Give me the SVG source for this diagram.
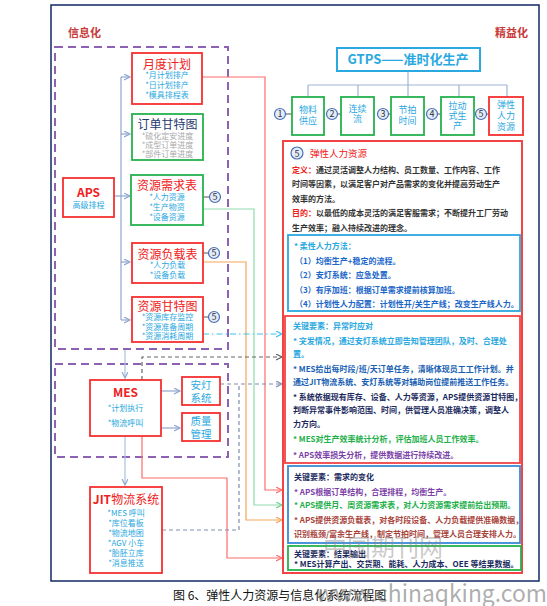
<svg xmlns="http://www.w3.org/2000/svg" width="547" height="606" viewBox="0 0 547 606">
<style>
text{font-family:"Noto Sans CJK SC","Noto Sans",sans-serif}
.box{fill:#fff;stroke-width:1.8}
.r{stroke:#f52f2f}
.g{stroke:#25b24e}
.t{fill:#f02020;font-size:12px;text-anchor:middle}
.it{fill:#2aa8e0;font-size:8px;text-anchor:middle}
.gi{fill:#a9a9a9;font-size:8px;text-anchor:middle}
.c5 circle{fill:#e3ecfa;stroke:#4a6fb5;stroke-width:1.2}
.c5 text{font-size:9px;text-anchor:middle;fill:#333}
.tb{fill:#2aa8e0;font-size:9px;text-anchor:middle}
.bd{font-size:8px;font-weight:bold}
.ln{fill:none;stroke-width:1.2}
</style>
<defs>
<marker id="aB" markerUnits="userSpaceOnUse" markerWidth="8" markerHeight="8" refX="6" refY="3" orient="auto"><path d="M0,0 L6,3 L0,6" fill="none" stroke="#8ea6cf" stroke-width="1.2"/></marker>
<marker id="aR" markerUnits="userSpaceOnUse" markerWidth="8" markerHeight="8" refX="6" refY="3" orient="auto"><path d="M0,0 L6,3 L0,6" fill="none" stroke="#ff6b6b" stroke-width="1.2"/></marker>
<marker id="aG" markerUnits="userSpaceOnUse" markerWidth="8" markerHeight="8" refX="6" refY="3" orient="auto"><path d="M0,0 L6,3 L0,6" fill="none" stroke="#6fd096" stroke-width="1.2"/></marker>
<marker id="aO" markerUnits="userSpaceOnUse" markerWidth="8" markerHeight="8" refX="6" refY="3" orient="auto"><path d="M0,0 L6,3 L0,6" fill="none" stroke="#f5a55a" stroke-width="1.2"/></marker>
<marker id="aC" markerUnits="userSpaceOnUse" markerWidth="8" markerHeight="8" refX="6" refY="3" orient="auto"><path d="M0,0 L6,3 L0,6" fill="none" stroke="#3cc4f0" stroke-width="1.2"/></marker>
<marker id="aK" markerUnits="userSpaceOnUse" markerWidth="8" markerHeight="8" refX="6" refY="3" orient="auto"><path d="M0,0 L6,3 L0,6" fill="none" stroke="#666" stroke-width="1.2"/></marker>
<marker id="aS" markerUnits="userSpaceOnUse" markerWidth="8" markerHeight="8" refX="6" refY="3" orient="auto"><path d="M0,0 L6,3 L0,6" fill="none" stroke="#7f8db0" stroke-width="1.2"/></marker>
</defs>

<rect x="51" y="5" width="488" height="576" fill="#fff" stroke="#102a66" stroke-width="1.5"/>
<text x="68" y="37" font-size="11" font-weight="bold" fill="#c83c3c">信息化</text>
<text x="495" y="37" font-size="11" font-weight="bold" fill="#c83c3c">精益化</text>

<rect x="55" y="47" width="173" height="302" fill="none" stroke="#8d62b5" stroke-width="2" stroke-dasharray="8,5"/>
<rect x="55" y="364" width="173" height="93" fill="none" stroke="#8d62b5" stroke-width="2" stroke-dasharray="8,5"/>

<g id="connectors">
<path class="ln" d="M114,196 H130" stroke="#8ea6cf" marker-end="url(#aB)"/>
<path class="ln" d="M121,77 V320" stroke="#8ea6cf"/>
<path class="ln" d="M121,77 H130" stroke="#8ea6cf" marker-end="url(#aB)"/>
<path class="ln" d="M121,134 H130" stroke="#8ea6cf" marker-end="url(#aB)"/>
<path class="ln" d="M121,262 H130" stroke="#8ea6cf" marker-end="url(#aB)"/>
<path class="ln" d="M121,320 H130" stroke="#8ea6cf" marker-end="url(#aB)"/>
<path class="ln" d="M125,350 V378" stroke="#a9c0e3" stroke-width="2" marker-end="url(#aB)"/>
<path class="ln" d="M125,437 V485" stroke="#a9c0e3" stroke-width="2" marker-end="url(#aB)"/>
<path class="ln" d="M161,391 H180" stroke="#8ea6cf" marker-end="url(#aB)"/>
<path class="ln" d="M161,428 H180" stroke="#8ea6cf" marker-end="url(#aB)"/>
<path class="ln" d="M202,77 H265 V490 H282" stroke="#ff6b6b" marker-end="url(#aR)"/>
<path class="ln" d="M203,209 H254 V505 H282" stroke="#8fdcae" stroke-width="1.6" marker-end="url(#aG)"/>
<path class="ln" d="M203,262 H246 V520 H282" stroke="#f5a55a" marker-end="url(#aO)"/>
<path class="ln" d="M142,436 V478 H227 V558 H282" stroke="#ff6b6b" marker-end="url(#aR)"/>
<path class="ln" d="M203,334 H282" stroke="#3cc4f0" stroke-dasharray="6,3,1.5,3" marker-end="url(#aC)"/>
<path class="ln" d="M142,380 V357 H282" stroke="#666" stroke-dasharray="4,3" marker-end="url(#aK)"/>
<path class="ln" d="M220,384 H282" stroke="#7f8db0" stroke-dasharray="4,3" marker-end="url(#aS)"/>
<path class="ln" d="M162,530 H239 V384" stroke="#7f8db0" stroke-dasharray="4,3"/>
<path class="ln" d="M408,71 V85 M308,85 H507 M308,85 V97 M358,85 V97 M408,85 V97 M459,85 V97 M507,85 V97" stroke="#9fb3d3"/>
<path class="ln" d="M203,197 H210 M203,253 H209 M203,317 H209 M285,114 H292 M337,114 H341 M388,114 H391 M437,114 H441 M486,114 H489" stroke="#555"/>
</g>

<g id="yuedu">
<rect class="box r" x="132" y="53" width="70" height="51"/>
<text class="t" x="167" y="69">月度计划</text>
<text class="it" x="167" y="78">*月计划排产</text>
<text class="it" x="167" y="88">*日计划排产</text>
<text class="it" x="167" y="98">*模具排程表</text>
</g>
<g id="dingdan">
<rect class="box g" x="132" y="114" width="71" height="46"/>
<text x="167.5" y="129" font-size="12" text-anchor="middle" fill="#1f3a6e">订单甘特图</text>
<text class="gi" x="167.5" y="139">*硫化定安进度</text>
<text class="gi" x="167.5" y="148">*成型订单进度</text>
<text class="gi" x="167.5" y="157">*部件订单进度</text>
</g>
<g id="aps">
<rect class="box r" x="63" y="178" width="51" height="39"/>
<text x="88.5" y="197" font-size="12" font-weight="bold" text-anchor="middle" fill="#f02020">APS</text>
<text class="it" x="88.5" y="208">高级排程</text>
</g>
<g id="xuqiu">
<rect class="box g" x="131" y="175" width="72" height="50"/>
<text class="t" x="167" y="190">资源需求表</text>
<text class="it" x="167" y="200">*人力资源</text>
<text class="it" x="167" y="210">*生产物资</text>
<text class="it" x="167" y="220">*设备资源</text>
<g class="c5"><circle cx="215" cy="197" r="5.5"/><text x="215" y="200">5</text></g>
</g>
<g id="fuzai">
<rect class="box r" x="132" y="243" width="71" height="40"/>
<text class="t" x="167.5" y="259">资源负载表</text>
<text class="it" x="167.5" y="268">*人力负载</text>
<text class="it" x="167.5" y="278">*设备负载</text>
<g class="c5"><circle cx="214" cy="253" r="5.5"/><text x="214" y="256">5</text></g>
</g>
<g id="ziyuangantt">
<rect class="box r" x="132" y="297" width="71" height="45"/>
<text class="t" x="167.5" y="311">资源甘特图</text>
<text class="it" x="167.5" y="320">*资源库存监控</text>
<text class="it" x="167.5" y="330">*资源准备周期</text>
<text class="it" x="167.5" y="339">*资源消耗周期</text>
<g class="c5"><circle cx="214" cy="317" r="5.5"/><text x="214" y="320">5</text></g>
</g>
<g id="mes">
<rect class="box r" x="90" y="380" width="71" height="56"/>
<text x="125.5" y="397" font-size="12" font-weight="bold" text-anchor="middle" fill="#f02020">MES</text>
<text class="it" x="125.5" y="411">*计划执行</text>
<text class="it" x="125.5" y="426">*物流呼叫</text>
</g>
<g id="andeng">
<rect class="box r" x="182" y="377" width="38" height="28"/>
<text x="201" y="389" font-size="10.5" text-anchor="middle" fill="#2aa8e0">安灯</text>
<text x="201" y="402" font-size="10.5" text-anchor="middle" fill="#2aa8e0">系统</text>
</g>
<g id="zhiliang">
<rect class="box r" x="182" y="413" width="38" height="28"/>
<text x="201" y="425" font-size="10.5" text-anchor="middle" fill="#2aa8e0">质量</text>
<text x="201" y="438" font-size="10.5" text-anchor="middle" fill="#2aa8e0">管理</text>
</g>
<g id="jit">
<rect class="box r" x="90" y="487" width="72" height="86"/>
<text class="t" x="126" y="504"><tspan font-weight="bold">JIT</tspan>物流系统</text>
<text class="it" x="126" y="516">*MES 呼叫</text>
<text class="it" x="126" y="526">*库位看板</text>
<text class="it" x="126" y="536">*物流地图</text>
<text class="it" x="126" y="546">*AGV 小车</text>
<text class="it" x="126" y="556">*胎胚立库</text>
<text class="it" x="126" y="566">*消息推送</text>
</g>

<g id="gtps">
<rect x="337" y="48" width="143" height="23" fill="#fff" stroke="#2aa8e0" stroke-width="2"/>
<text x="408" y="64" font-size="13" font-weight="bold" text-anchor="middle" fill="#2aa8e0">GTPS——准时化生产</text>
</g>
<g id="p1">
<g class="c5"><circle cx="280" cy="114" r="5.5"/><text x="280" y="117">1</text></g>
<rect class="box g" x="292" y="97" width="32" height="38"/>
<text class="tb" x="308" y="113">物料</text><text class="tb" x="308" y="124">供应</text>
</g>
<g id="p2">
<g class="c5"><circle cx="332" cy="114" r="5.5"/><text x="332" y="117">2</text></g>
<rect class="box g" x="341" y="97" width="33" height="38"/>
<text class="tb" x="357.5" y="112">连续</text><text class="tb" x="357.5" y="122">流</text>
</g>
<g id="p3">
<g class="c5"><circle cx="383" cy="114" r="5.5"/><text x="383" y="117">3</text></g>
<rect class="box g" x="391" y="97" width="33" height="38"/>
<text class="tb" x="407.5" y="113">节拍</text><text class="tb" x="407.5" y="124">时间</text>
</g>
<g id="p4">
<g class="c5"><circle cx="432" cy="114" r="5.5"/><text x="432" y="117">4</text></g>
<rect class="box g" x="441" y="97" width="33" height="38"/>
<text class="tb" x="457.5" y="109">拉动</text><text class="tb" x="457.5" y="119">式生</text><text class="tb" x="457.5" y="129">产</text>
</g>
<g id="p5">
<g class="c5"><circle cx="481" cy="114" r="5.5"/><text x="481" y="117" fill="#f02020">5</text></g>
<rect class="box r" x="489" y="97" width="34" height="38"/>
<text class="tb" x="506" y="108" fill="#f03a3a">弹性</text><text class="tb" x="506" y="119" fill="#f03a3a">人力</text><text class="tb" x="506" y="130" fill="#f03a3a">资源</text>
</g>

<g id="tanxing">
<rect x="283" y="141" width="239" height="432" fill="#fff" stroke="#f24444" stroke-width="2"/>
<g class="c5"><circle cx="297" cy="153" r="6"/><text x="297" y="156.5" fill="#f02020" font-size="10">5</text></g>
<text x="310" y="157" font-size="9.5" fill="#f02020">弹性人力资源</text>
<g class="bd" fill="#333">
<text x="292" y="172.5"><tspan fill="#f02020">定义：</tspan>通过灵活调整人力结构、员工数量、工作内容、工作</text>
<text x="292" y="187">时间等因素，以满足客户对产品需求的变化并提高劳动生产</text>
<text x="292" y="201.5">效率的方法。</text>
<text x="292" y="216"><tspan fill="#f02020">目的：</tspan>以最低的成本灵活的满足客服需求；不断提升工厂劳动</text>
<text x="292" y="230.5">生产效率；融入持续改进的理念。</text>
</g>
</g>
<g id="rouxing">
<rect x="288" y="235" width="232" height="76" fill="#fff" stroke="#2aa8e0" stroke-width="1.8"/>
<g class="bd" fill="#1a66c9">
<text x="294" y="249" fill="#2aa8e0">*  柔性人力方法：</text>
<text x="295" y="263.5">（1）均衡生产+稳定的流程。</text>
<text x="295" y="278">（2）安灯系统：应急处置。</text>
<text x="295" y="292.5">（3）有序加班：根据订单需求提前核算加班。</text>
<text x="295" y="307">（4）计划性人力配置：计划性开/关生产线；改变生产线人力。</text>
</g>
</g>
<g id="yichang">
<rect x="285" y="316" width="235" height="147" fill="#fff" stroke="#f24444" stroke-width="1.8"/>
<g class="bd">
<text x="293" y="329" fill="#2aa8e0">关键要素：异常时应对</text>
<text x="293" y="344" fill="#2aa8e0">*  突发情况，通过安灯系统立即告知管理团队，及时、合理处</text>
<text x="293" y="357" fill="#2aa8e0">置。</text>
<text x="293" y="372" fill="#1a5fb4">*  MES给出每时段/班/天订单任务，清晰体现员工工作计划。并</text>
<text x="293" y="385" fill="#1a5fb4">通过JIT物流系统、安灯系统等对辅助岗位提前推送工作任务。</text>
<text x="293" y="400" fill="#1b2a5e">*  系统依据现有库存、设备、人力等资源，APS提供资源甘特图，</text>
<text x="293" y="413" fill="#1b2a5e">判断异常事件影响范围、时间，供管理人员准确决策，调整人</text>
<text x="293" y="427" fill="#1b2a5e">力方向。</text>
<text x="293" y="442" fill="#22b04a">*  MES对生产效率统计分析，评估加班人员工作效率。</text>
<text x="293" y="458" fill="#7b3fa8">*  APS效率损失分析，提供数据进行持续改进。</text>
</g>
</g>
<g id="xuqiubianhua">
<rect x="288" y="466" width="232" height="77" fill="#fff" stroke="#3a8ad8" stroke-width="1.8"/>
<g class="bd">
<text x="294" y="480" fill="#1b2a5e">关键要素：需求的变化</text>
<text x="294" y="495" fill="#7b3fa8">*  APS根据订单结构，合理排程，均衡生产。</text>
<text x="294" y="508" fill="#22b04a">*  APS提供月、周资源需求表，对人力资源需求提前给出预期。</text>
<text x="294" y="523" fill="#a8433a">*  APS提供资源负载表，对各时段设备、人力负载提供准确数据，</text>
<text x="294" y="537" fill="#a8433a">识别瓶颈/富余生产线，制定节拍时间，管理人员合理安排人力。</text>
</g>
</g>
<g id="jieguo">
<rect x="288" y="546" width="233" height="24" fill="#fff" stroke="#25b24e" stroke-width="1.8"/>
<g class="bd" fill="#1b2a5e">
<text x="294" y="557">关键要素：结果输出</text>
<text x="294" y="567">*  MES计算产出、交货期、能耗、人力成本、OEE 等结果数据。</text>
</g>
</g>

<text x="173" y="600" font-size="12" fill="#111">图 6、弹性人力资源与信息化系统流程图</text>
<text x="323" y="556" font-size="24" fill="#888" fill-opacity="0.45">中国期刊网</text>
<text x="316" y="602" font-size="24" font-family="Liberation Mono, monospace" fill="#777" fill-opacity="0.6" textLength="231" lengthAdjust="spacingAndGlyphs">www.chinaqking.com</text>
</svg>
